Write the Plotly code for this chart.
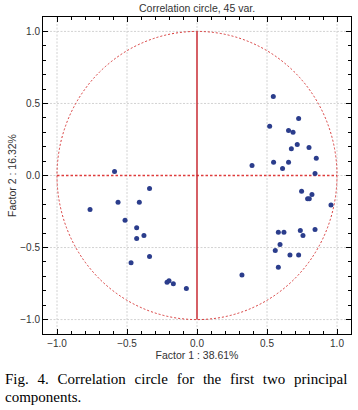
import plotly.graph_objects as go

title_text = "Correlation circle, 45 var."
x_title = "Factor 1 : 38.61%"
y_title = "Factor 2 : 16.32%"
caption_lines = ["Fig. 4. Correlation circle for the first two principal", "components."]

# Factor loadings
factor1 = [
    0.545, 0.726, 0.519, 0.654, 0.686, 0.716, 0.674, 0.800, 0.852, 0.547,
    0.654, 0.611, 0.843, 0.393,
    0.747, 0.821, 0.790, 0.802, 0.957, 0.581, 0.621, 0.738, 0.843, 0.757,
    0.593, 0.559, 0.664, 0.726, 0.581, 0.321,
    -0.214, -0.200, -0.169, -0.076,
    -0.589, -0.339, -0.564, -0.412, -0.764, -0.514, -0.431, -0.379, -0.431,
    -0.339, -0.471,
]
factor2 = [
    0.549, 0.396, 0.342, 0.312, 0.300, 0.215, 0.185, 0.194, 0.120, 0.092,
    0.092, 0.049, 0.014, 0.069,
    -0.109, -0.132, -0.162, -0.162, -0.204, -0.394, -0.394, -0.382, -0.375, -0.417,
    -0.479, -0.521, -0.551, -0.551, -0.637, -0.690,
    -0.741, -0.731, -0.752, -0.785,
    0.028, -0.090, -0.185, -0.185, -0.236, -0.310, -0.363, -0.417, -0.438,
    -0.562, -0.606,
]
tick_vals = [-1.0, -0.5, 0.0, 0.5, 1.0]
grid_vals = [-1.0, -0.5, 0.5, 1.0]
radius = 1.0
axis_range = [-1.1, 1.1]

RED = "#d83a3a"
AXIS_RED = "#de3c3c"
GRID = "#d2d2d2"
GRID_DASH = "2px,1.5px"
fig = go.Figure()

# light dotted grid (drawn as shapes so the zero lines stay red)
for g in grid_vals:
    fig.add_shape(type="line", xref="x", yref="y", x0=g, x1=g, y0=axis_range[0], y1=axis_range[1],
                  line=dict(color=GRID, width=1, dash=GRID_DASH), layer="below")
    fig.add_shape(type="line", xref="x", yref="y", y0=g, y1=g, x0=axis_range[0], x1=axis_range[1],
                  line=dict(color=GRID, width=1, dash=GRID_DASH), layer="below")
fig.add_shape(type="line", xref="x", yref="y", x0=axis_range[0], x1=-radius, y0=0, y1=0,
              line=dict(color=GRID, width=1, dash=GRID_DASH), layer="below")
fig.add_shape(type="line", xref="x", yref="y", x0=radius, x1=axis_range[1], y0=0, y1=0,
              line=dict(color=GRID, width=1, dash=GRID_DASH), layer="below")
fig.add_shape(type="line", xref="x", yref="y", x0=0, x1=0, y0=radius, y1=axis_range[1],
              line=dict(color=GRID, width=1, dash=GRID_DASH), layer="below")
fig.add_shape(type="line", xref="x", yref="y", x0=0, x1=0, y0=axis_range[0], y1=-radius,
              line=dict(color=GRID, width=1, dash=GRID_DASH), layer="below")

fig.add_shape(type="circle", xref="x", yref="y", x0=-radius, y0=-radius, x1=radius, y1=radius,
              line=dict(color=RED, width=1, dash="2px,2px"), layer="below")
fig.add_shape(type="line", xref="x", yref="y", x0=-radius, y0=0, x1=radius, y1=0,
              line=dict(color=AXIS_RED, width=1.3, dash="2.5px,2px"), layer="below")
fig.add_shape(type="line", xref="x", yref="y", x0=0, y0=-radius, x1=0, y1=radius,
              line=dict(color="#c41c24", width=1.4), layer="below")

fig.add_trace(go.Scatter(
    x=factor1, y=factor2, mode="markers",
    marker=dict(color="#2b3d8c", size=5),
    showlegend=False, hoverinfo="x+y",
))

axis_common = dict(
    range=axis_range, tickvals=tick_vals, tickformat=".1f",
    showline=True, linecolor="black", linewidth=1, mirror="ticks",
    ticks="inside", ticklen=5, tickcolor="black",
    minor=dict(dtick=0.1, tick0=0, ticks="inside", ticklen=3, tickcolor="black", showgrid=False),
    showgrid=False, zeroline=False, automargin=False,
    tickfont=dict(family="Liberation Sans, Arial", size=10, color="#333333"),
    title_font=dict(family="Liberation Sans, Arial", size=10.5, color="#333333"),
)

cap_font = dict(family="Liberation Serif, Times New Roman", size=15, color="black")
fig.update_layout(
    width=358, height=410,
    margin=dict(l=43, r=7, t=17, b=76),
    paper_bgcolor="white", plot_bgcolor="white",
    xaxis=dict(**axis_common, title=dict(text=x_title, standoff=2)),
    yaxis=dict(**axis_common, title=dict(text=y_title, standoff=1)),
    annotations=[
        dict(text=title_text, xref="paper", yref="paper", x=0.5, y=1 + (17 - 8) / 317,
             xanchor="center", yanchor="middle", showarrow=False,
             font=dict(family="Liberation Sans, Arial", size=10.5, color="#333333")),
        dict(text="\u00a0\u00a0\u200a".join(caption_lines[0].split(" ")), xref="paper", yref="paper",
             x=-40 / 308, y=-(379 - 334) / 317, xanchor="left", yanchor="middle", showarrow=False,
             font=cap_font),
        dict(text=caption_lines[1], xref="paper", yref="paper",
             x=-40 / 308, y=-(397 - 334) / 317, xanchor="left", yanchor="middle", showarrow=False,
             font=cap_font),
    ],
)

fig.write_html("out.html", config={"displayModeBar": False},
               post_script="document.body.style.margin='0';")
